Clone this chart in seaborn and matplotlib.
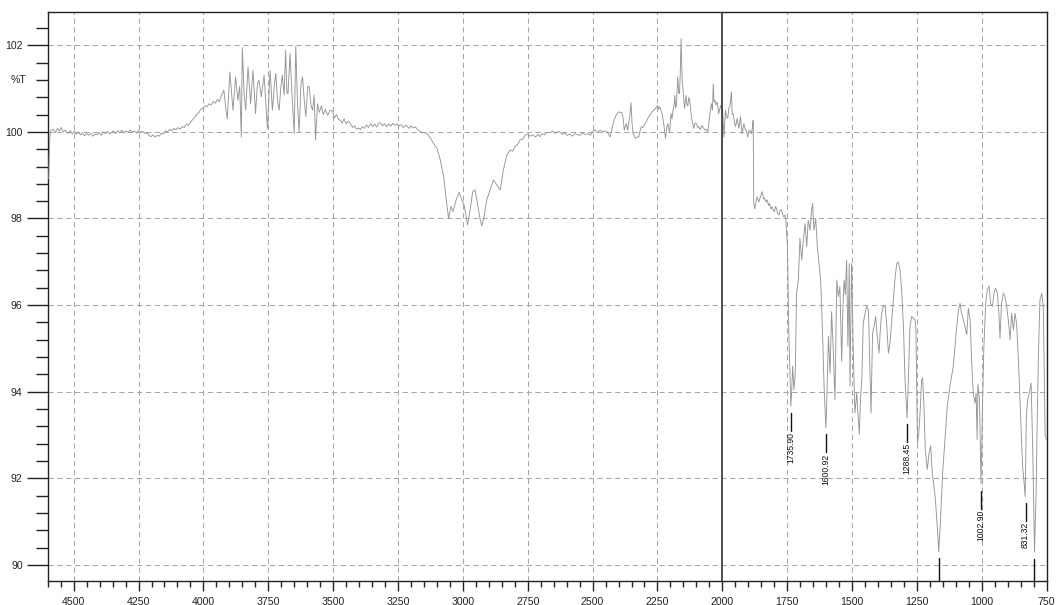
import matplotlib
matplotlib.use("Agg")
import matplotlib.pyplot as plt
import matplotlib.transforms as mtransforms
from matplotlib.ticker import MultipleLocator, FixedLocator
import seaborn as sns
import pandas as pd

# ---------------- data ----------------
wavenumber = [
    4600, 4596, 4593, 4590, 4580, 4570, 4562, 4555, 4548, 4540, 4532, 4522, 4514, 4505, 4497, 4490,
    4482, 4474, 4466, 4458, 4450, 4442, 4434, 4426, 4418, 4410, 4402, 4394, 4386, 4378, 4370, 4362,
    4354, 4346, 4338, 4330, 4322, 4314, 4306, 4298, 4290, 4282, 4274, 4266, 4258, 4250, 4242, 4234,
    4226, 4218, 4210, 4202, 4194, 4186, 4178, 4170, 4162, 4154, 4146, 4138, 4130, 4122, 4114, 4106,
    4098, 4090, 4082, 4074, 4066, 4058, 4050, 4042, 4034, 4026, 4018, 4010, 4002, 3994, 3986, 3978,
    3970, 3962, 3954, 3946, 3938, 3930,
    3921, 3914, 3908, 3898, 3886, 3876, 3867, 3860, 3854, 3850, 3843, 3837, 3828, 3818, 3809, 3799,
    3792, 3786, 3777, 3766, 3760, 3753, 3743, 3734, 3727, 3721, 3714, 3708, 3702, 3696, 3689, 3683,
    3678, 3674, 3666, 3658, 3650, 3644, 3637, 3631, 3624, 3618, 3611, 3605, 3598, 3592, 3585, 3579,
    3573, 3568, 3560, 3553, 3545, 3538, 3530, 3521, 3512, 3503, 3495, 3487, 3479,
    3472, 3465, 3458, 3450, 3442, 3433, 3425, 3417, 3410, 3402, 3395, 3388, 3380, 3372, 3364, 3356,
    3348, 3340, 3332, 3325, 3318, 3310, 3302, 3294, 3286, 3278, 3270, 3262, 3254, 3246, 3238, 3230,
    3222, 3215, 3207, 3200, 3192, 3183, 3175, 3164, 3150, 3138, 3125, 3113, 3100, 3087, 3074, 3064,
    3055, 3050, 3046, 3038, 3026, 3014, 3004, 2995, 2982, 2972, 2962, 2953, 2944, 2933, 2927, 2918,
    2908, 2895, 2882, 2869, 2856, 2844, 2831, 2818, 2808, 2799, 2790, 2780, 2770, 2760, 2750, 2741,
    2730, 2720, 2710, 2703, 2694, 2685, 2676, 2664, 2655, 2646, 2636, 2626, 2617, 2608, 2598, 2587,
    2578, 2568, 2558, 2549, 2540, 2530, 2517, 2509, 2500,
    2490, 2482, 2475, 2470, 2460, 2452, 2445, 2438, 2432, 2425, 2419, 2410, 2400, 2393, 2387, 2382,
    2378, 2374, 2370, 2365, 2361, 2357, 2352, 2348, 2344, 2339, 2335, 2328, 2322, 2318, 2313, 2307,
    2301, 2292, 2284, 2277, 2271, 2264, 2258, 2253, 2249, 2245, 2241, 2236, 2232, 2226, 2219, 2214,
    2210, 2206, 2203, 2198, 2194, 2190, 2186, 2183, 2180, 2177, 2172, 2168, 2165, 2162, 2159, 2155,
    2151, 2146, 2140, 2136, 2133, 2129, 2126, 2121, 2117, 2110, 2105, 2100, 2095, 2091, 2085, 2078,
    2072, 2065, 2060, 2056, 2048, 2042, 2038, 2035, 2032, 2029, 2024, 2020, 2014, 2007, 2003, 1999,
    1994, 1988, 1984, 1979, 1975, 1971, 1965, 1962, 1958, 1953, 1949, 1943, 1936, 1930, 1924, 1917,
    1912, 1908, 1902, 1898, 1894, 1888, 1884, 1881, 1879, 1875, 1870, 1866, 1860, 1857, 1850, 1846,
    1841, 1837, 1832, 1827, 1822, 1818, 1813, 1808, 1803, 1799, 1795, 1791, 1786, 1782, 1777, 1773,
    1768, 1763, 1758, 1755,
    1749, 1744, 1736, 1733, 1729, 1724, 1719, 1714, 1707, 1701, 1694, 1688, 1681, 1675, 1669, 1662,
    1656, 1652, 1647, 1640, 1634, 1626, 1621, 1613, 1608, 1601, 1598, 1591, 1585, 1579, 1572, 1566,
    1559, 1553, 1547, 1540, 1536, 1531, 1526, 1521, 1516, 1511, 1508, 1502, 1495, 1489, 1482, 1476,
    1472, 1467, 1462, 1457, 1450, 1444, 1437, 1431, 1427, 1421, 1415, 1409, 1403, 1396, 1392, 1386,
    1380, 1373, 1367, 1360, 1354, 1347, 1341, 1335, 1328, 1322, 1315, 1309, 1302, 1296, 1288, 1283,
    1277, 1270, 1264, 1257, 1254, 1248, 1243, 1238, 1232, 1228, 1223, 1218, 1210, 1203, 1197, 1191,
    1180, 1171, 1166, 1159, 1151, 1142, 1133, 1123, 1110, 1099, 1090, 1084, 1078, 1071, 1065, 1058,
    1052, 1045, 1039, 1033, 1026, 1022, 1018, 1015, 1009, 1003, 998, 992, 985, 979, 972, 966,
    959, 953, 947, 940, 934, 930, 924, 917, 911, 904, 898, 891, 885, 878, 872, 866,
    859, 850, 843, 837, 833, 828, 823, 817, 810, 804, 797, 791, 786, 781, 776, 769,
    763, 756, 750,
]

transmittance = [
    98.90, 98.95, 99.70, 100.02, 100.06, 99.98, 100.08, 100.02, 100.10, 100.00, 100.04, 99.96, 100.03, 99.95, 100.02, 99.94,
    100.00, 99.93, 99.98, 99.91, 99.96, 99.92, 99.97, 99.90, 99.95, 99.93, 99.98, 99.92, 100.00, 99.96, 100.01, 99.95,
    99.99, 100.02, 99.96, 100.03, 99.98, 100.04, 99.97, 100.02, 99.99, 100.04, 100.00, 100.02, 99.97, 100.03, 99.99, 100.01,
    99.96, 99.98, 99.92, 99.89, 99.93, 99.88, 99.92, 99.90, 99.97, 99.95, 100.03, 100.00, 100.06, 100.02, 100.08, 100.05,
    100.10, 100.06, 100.12, 100.10, 100.18, 100.15, 100.22, 100.28, 100.33, 100.40, 100.44, 100.52, 100.55, 100.60, 100.58, 100.65,
    100.62, 100.70, 100.66, 100.75, 100.70, 100.85,
    100.96, 100.55, 100.30, 101.38, 100.50, 101.27, 100.73, 101.05, 99.88, 101.94, 100.85, 100.50, 101.50, 100.65, 101.42, 100.42,
    101.10, 101.19, 100.81, 101.31, 100.70, 100.08, 101.42, 100.50, 101.05, 101.35, 100.70, 100.50, 101.00, 101.31, 100.85, 101.88,
    100.90, 100.88, 101.81, 100.80, 99.96, 101.98, 100.60, 100.00, 101.10, 101.27, 100.70, 100.35, 101.05, 101.04, 100.60, 100.50,
    100.85, 99.81, 100.65, 100.45, 100.60, 100.40, 100.52, 100.38, 100.50, 100.48, 100.32, 100.40, 100.28,
    100.27, 100.20, 100.30, 100.18, 100.25, 100.19, 100.10, 100.14, 100.06, 100.09, 100.05, 100.12, 100.08, 100.16, 100.10, 100.19,
    100.12, 100.18, 100.11, 100.20, 100.21, 100.14, 100.19, 100.12, 100.18, 100.13, 100.20, 100.15, 100.19, 100.14, 100.17, 100.10,
    100.15, 100.13, 100.08, 100.14, 100.09, 100.11, 100.06, 100.00, 99.98, 99.96, 99.85, 99.73, 99.62, 99.35, 98.97, 98.43,
    98.00, 98.15, 98.28, 98.16, 98.43, 98.60, 98.43, 98.31, 97.85, 98.20, 98.62, 98.66, 98.35, 97.97, 97.83, 98.05,
    98.43, 98.66, 98.89, 98.77, 98.66, 99.12, 99.46, 99.58, 99.55, 99.67, 99.70, 99.81, 99.83, 99.92, 99.95, 99.90,
    99.93, 99.88, 99.94, 99.89, 99.96, 99.93, 99.99, 99.98, 100.02, 99.97, 100.00, 100.00, 99.94, 99.98, 99.92, 99.95,
    99.90, 99.96, 99.93, 99.92, 99.97, 99.94, 99.96, 99.92, 100.00,
    100.05, 99.98, 100.03, 100.04, 100.00, 100.02, 100.00, 99.94, 99.88, 100.08, 100.23, 100.38, 100.46, 100.45, 100.44, 100.30,
    100.04, 100.12, 100.19, 100.04, 100.20, 100.35, 100.67, 100.20, 99.96, 99.90, 99.85, 99.88, 99.88, 100.00, 100.12, 100.10,
    100.15, 100.25, 100.35, 100.40, 100.46, 100.50, 100.54, 100.58, 100.61, 100.52, 100.58, 100.48, 100.42, 100.19, 99.85, 100.10,
    100.19, 100.05, 100.00, 100.42, 100.30, 100.50, 100.62, 100.84, 100.55, 100.61, 101.27, 100.90, 100.88, 101.40, 102.15, 101.20,
    100.96, 100.54, 100.84, 100.60, 100.61, 100.80, 100.73, 100.45, 100.27, 100.08, 100.20, 100.19, 100.10, 100.12, 100.05, 100.15,
    100.08, 100.04, 100.05, 100.00, 100.42, 100.65, 100.50, 101.11, 100.70, 100.73, 100.62, 100.69, 100.42, 100.61, 100.55, 100.50,
    99.88, 100.50, 100.35, 100.31, 100.55, 100.58, 100.92, 100.40, 100.42, 100.20, 100.12, 100.31, 100.08, 100.35, 99.96, 100.19,
    100.05, 100.04, 99.88, 100.02, 100.04, 99.96, 100.10, 100.27, 98.35, 98.22, 98.40, 98.50, 98.38, 98.43, 98.55, 98.62,
    98.45, 98.47, 98.38, 98.43, 98.30, 98.35, 98.22, 98.27, 98.18, 98.16, 98.28, 98.23, 98.10, 98.08, 98.20, 98.20,
    98.10, 98.04, 98.08, 97.95,
    97.35, 95.43, 93.67, 93.97, 94.59, 94.05, 94.43, 96.27, 96.58, 97.54, 97.04, 97.50, 97.88, 97.35, 97.96, 97.73,
    98.19, 98.35, 97.73, 98.00, 97.35, 96.89, 96.58, 95.20, 94.13, 93.17, 93.67, 95.28, 94.43, 95.85, 94.89, 93.82,
    96.58, 96.20, 96.43, 94.70, 95.81, 96.58, 96.24, 97.04, 95.05, 96.96, 94.13, 96.96, 94.82, 93.51, 93.97, 93.36,
    93.02, 93.90, 94.36, 95.58, 95.81, 95.97, 95.89, 94.43, 93.51, 95.35, 95.51, 95.74, 95.28, 94.89, 95.35, 95.81,
    95.97, 96.00, 95.58, 94.89, 95.12, 95.66, 96.12, 96.58, 96.96, 97.00, 96.81, 96.35, 95.51, 94.28, 93.40, 94.28,
    95.51, 95.74, 95.70, 95.66, 95.43, 92.82, 93.05, 93.51, 94.28, 94.32, 93.67, 92.67, 92.21, 92.59, 92.75, 92.13,
    91.60, 90.83, 90.31, 91.06, 92.13, 92.90, 93.67, 94.13, 94.59, 95.35, 95.89, 96.04, 95.81, 95.66, 95.51, 95.32,
    95.93, 95.66, 94.66, 93.97, 93.74, 93.97, 92.90, 94.17, 93.82, 91.87, 93.51, 95.05, 96.04, 96.35, 96.44, 96.04,
    95.97, 96.27, 96.39, 96.27, 95.81, 95.24, 96.04, 96.27, 96.20, 95.97, 95.66, 95.20, 95.81, 95.43, 95.81, 95.58,
    94.74, 93.36, 92.29, 91.90, 91.58, 93.51, 93.82, 93.97, 94.20, 92.75, 90.30, 91.60, 93.51, 95.05, 96.12, 96.27,
    95.97, 92.98, 92.90,
]

# labelled peaks (wavenumber, %T at the minimum)
peak_wavenumber = [1735.90, 1600.92, 1288.45, 1002.90, 831.32]
peak_transmittance = [93.67, 93.17, 93.40, 91.87, 91.58]
# peaks whose labels fall below the plotting window
hidden_peak_wavenumber = [1166, 797]
hidden_peak_transmittance = [90.31, 90.30]

x_major_ticks = [4500, 4250, 4000, 3750, 3500, 3250, 3000, 2750, 2500, 2250, 2000, 1750, 1500, 1250, 1000, 750]
y_major_ticks = [90, 92, 94, 96, 98, 100, 102]
y_axis_label = "%T"

# ---------------- figure ----------------
sns.set_style("white")
plt.rcParams["font.family"] = ["Liberation Sans", "DejaVu Sans"]

fig = plt.figure(figsize=(10.58, 6.05), dpi=100)
ax = fig.add_axes([0.0451, 0.0402, 0.9442, 0.9395])

df = pd.DataFrame({"wn": wavenumber, "T": transmittance})
sns.lineplot(data=df, x="wn", y="T", ax=ax, color="#959595", linewidth=0.65,
             estimator=None, sort=False, zorder=3)

ax.set_xlim(4600, 750)
ax.set_ylim(89.64, 102.76)

ax.xaxis.set_major_locator(FixedLocator(x_major_ticks))
ax.xaxis.set_minor_locator(MultipleLocator(50))
ax.yaxis.set_major_locator(FixedLocator(y_major_ticks))
ax.yaxis.set_minor_locator(MultipleLocator(0.4))
ax.set_xticklabels([str(v) for v in x_major_ticks])
ax.set_yticklabels([str(v) for v in y_major_ticks])

ax.tick_params(which="both", left=True, bottom=True, top=False, right=False)
ax.tick_params(axis="y", which="major", direction="out", length=15, width=1.0,
               color="#222222", labelsize=7.6, labelcolor="#222222", pad=3)
ax.tick_params(axis="y", which="minor", direction="out", length=9, width=1.0, color="#222222")
ax.tick_params(axis="x", which="major", direction="out", length=7.5, width=1.0,
               color="#222222", labelsize=7.6, labelcolor="#222222", pad=4)
ax.tick_params(axis="x", which="minor", direction="out", length=4.5, width=1.0, color="#222222")

for s in ax.spines.values():
    s.set_visible(True)
    s.set_color("#222222")
    s.set_linewidth(1.0)

# dashed grid
grid_kw = dict(color="#a6a6a6", linewidth=0.75, linestyle=(0, (5, 3.5)), zorder=1)
for xv in x_major_ticks:
    if xv != 2000 and xv != 750:
        ax.axvline(xv, **grid_kw)
for yv in y_major_ticks:
    ax.axhline(yv, **grid_kw)

# solid divider at 2000 cm-1
ax.axvline(2000, color="#333333", linewidth=1.2, zorder=4)

# %T label beside the axis
trans = mtransforms.blended_transform_factory(ax.transAxes, ax.transData)
ax.text(-0.021, 101.2, y_axis_label, transform=trans, ha="right", va="center",
        fontsize=7.6, color="#222222")

# peak annotations
for wn, t in zip(peak_wavenumber, peak_transmittance):
    top = t - 0.15
    bottom = top - 0.42
    ax.plot([wn, wn], [top, bottom], color="#111111", linewidth=1.0, zorder=5)
    ax.text(wn, bottom - 0.02, f"{wn:.2f}", rotation=90, ha="center", va="top",
            fontsize=6.2, color="#111111", zorder=5)

for wn, t in zip(hidden_peak_wavenumber, hidden_peak_transmittance):
    ax.plot([wn, wn], [t - 0.15, 89.5], color="#111111", linewidth=1.0, zorder=5, clip_on=True)

ax.set_xlabel("")
ax.set_ylabel("")

fig.savefig("out.png", dpi=100, facecolor="white")
